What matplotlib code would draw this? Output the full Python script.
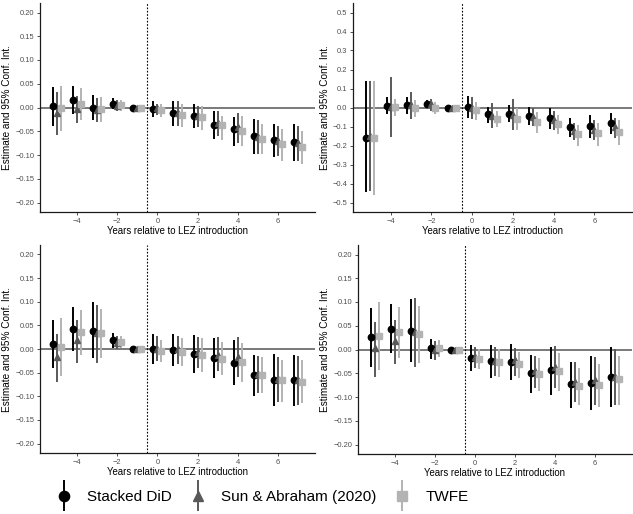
import matplotlib
matplotlib.use("Agg")
import matplotlib.pyplot as plt
from matplotlib.container import ErrorbarContainer
from matplotlib.legend_handler import HandlerErrorbar

plt.rcParams['font.family'] = ['Liberation Sans', 'DejaVu Sans']

years = [-5, -4, -3, -2, -1, 0, 1, 2, 3, 4, 5, 6, 7]

# panel A
a_stk = [0.003, 0.015, -0.001, 0.008, 0, -0.004, -0.012, -0.018, -0.037, -0.046, -0.061, -0.068, -0.073]
a_stk_lo = [-0.039, -0.014, -0.027, -0.004, 0, -0.020, -0.039, -0.044, -0.066, -0.081, -0.098, -0.104, -0.112]
a_stk_hi = [0.044, 0.046, 0.026, 0.020, 0, 0.014, 0.014, 0.008, -0.007, -0.019, -0.025, -0.035, -0.035]
a_sun = [-0.012, -0.003, -0.006, 0.004, 0, -0.001, -0.012, -0.018, -0.033, -0.040, -0.062, -0.070, -0.074]
a_sun_lo = [-0.057, -0.033, -0.031, -0.008, 0, -0.015, -0.039, -0.042, -0.061, -0.074, -0.098, -0.102, -0.112]
a_sun_hi = [0.033, 0.025, 0.019, 0.016, 0, 0.008, 0.013, 0.004, -0.007, -0.011, -0.027, -0.039, -0.039]
a_twfe = [-0.002, 0.007, -0.004, 0.005, 0, -0.005, -0.016, -0.021, -0.037, -0.049, -0.066, -0.077, -0.084]
a_twfe_lo = [-0.050, -0.027, -0.030, -0.007, 0, -0.019, -0.040, -0.047, -0.068, -0.081, -0.098, -0.112, -0.119]
a_twfe_hi = [0.046, 0.041, 0.022, 0.015, 0, 0.008, 0.007, 0.004, -0.018, -0.018, -0.035, -0.046, -0.049]

# panel B
b_stk = [-0.158, 0.009, 0.011, 0.018, 0, 0.004, -0.035, -0.032, -0.044, -0.056, -0.104, -0.096, -0.084]
b_stk_lo = [-0.446, -0.035, -0.033, -0.005, 0, -0.053, -0.079, -0.075, -0.093, -0.111, -0.153, -0.161, -0.140]
b_stk_hi = [0.137, 0.054, 0.054, 0.040, 0, 0.058, 0.005, 0.014, 0.005, -0.004, -0.053, -0.042, -0.030]
b_sun = [-0.149, 0.005, 0.012, 0.016, 0, 0.000, -0.044, -0.039, -0.051, -0.065, -0.123, -0.118, -0.105]
b_sun_lo = [-0.437, -0.156, -0.060, -0.016, 0, -0.061, -0.109, -0.121, -0.096, -0.118, -0.170, -0.170, -0.161]
b_sun_hi = [0.137, 0.160, 0.081, 0.047, 0, 0.054, 0.023, 0.044, -0.002, -0.016, -0.079, -0.065, -0.053]
b_twfe = [-0.161, 0.005, -0.004, -0.002, 0, -0.014, -0.060, -0.061, -0.075, -0.088, -0.140, -0.132, -0.128]
b_twfe_lo = [-0.463, -0.047, -0.049, -0.033, 0, -0.065, -0.104, -0.121, -0.135, -0.139, -0.205, -0.205, -0.196]
b_twfe_hi = [0.137, 0.044, 0.042, 0.030, 0, 0.030, -0.016, -0.004, -0.026, -0.042, -0.091, -0.079, -0.065]

# panel C
c_stk = [0.011, 0.042, 0.039, 0.018, 0, 0.001, -0.003, -0.010, -0.019, -0.030, -0.055, -0.065, -0.066]
c_stk_lo = [-0.040, -0.004, -0.019, 0.002, 0, -0.031, -0.037, -0.051, -0.061, -0.077, -0.100, -0.120, -0.120]
c_stk_hi = [0.062, 0.088, 0.099, 0.034, 0, 0.032, 0.032, 0.030, 0.023, 0.018, -0.012, -0.010, -0.012]
c_sun = [-0.017, 0.018, 0.034, 0.013, 0, 0.001, -0.001, -0.007, -0.012, -0.017, -0.053, -0.063, -0.065]
c_sun_lo = [-0.070, -0.030, -0.030, -0.001, 0, -0.026, -0.031, -0.040, -0.047, -0.059, -0.093, -0.112, -0.118]
c_sun_hi = [0.032, 0.062, 0.094, 0.027, 0, 0.027, 0.027, 0.025, 0.025, 0.025, -0.015, -0.017, -0.015]
c_twfe = [0.004, 0.035, 0.034, 0.015, 0, -0.004, -0.006, -0.013, -0.021, -0.028, -0.056, -0.066, -0.069]
c_twfe_lo = [-0.058, -0.012, -0.019, 0.002, 0, -0.028, -0.035, -0.049, -0.054, -0.070, -0.094, -0.112, -0.114]
c_twfe_hi = [0.065, 0.083, 0.085, 0.028, 0, 0.020, 0.023, 0.023, 0.014, 0.013, -0.017, -0.023, -0.024]

# panel D
d_stk = [0.026, 0.044, 0.040, 0.003, 0, -0.017, -0.025, -0.026, -0.050, -0.044, -0.073, -0.070, -0.057]
d_stk_lo = [-0.036, -0.008, -0.027, -0.020, 0, -0.045, -0.060, -0.065, -0.092, -0.096, -0.123, -0.128, -0.121]
d_stk_hi = [0.087, 0.095, 0.106, 0.023, 0, 0.010, 0.009, 0.011, -0.011, 0.006, -0.027, -0.013, 0.006]
d_sun = [0.004, 0.017, 0.037, -0.002, 0, -0.016, -0.025, -0.023, -0.046, -0.036, -0.068, -0.065, -0.057]
d_sun_lo = [-0.057, -0.030, -0.036, -0.023, 0, -0.038, -0.055, -0.055, -0.082, -0.080, -0.111, -0.117, -0.117]
d_sun_hi = [0.058, 0.062, 0.108, 0.018, 0, 0.005, 0.005, 0.004, -0.013, 0.008, -0.027, -0.016, 0.001]
d_twfe = [0.028, 0.037, 0.033, 0.004, 0, -0.020, -0.027, -0.030, -0.052, -0.046, -0.077, -0.075, -0.062]
d_twfe_lo = [-0.043, -0.018, -0.029, -0.016, 0, -0.041, -0.057, -0.060, -0.087, -0.087, -0.116, -0.121, -0.116]
d_twfe_hi = [0.099, 0.090, 0.092, 0.021, 0, 0.001, 0.001, -0.006, -0.018, -0.008, -0.039, -0.030, -0.013]

labels = ['Stacked DiD', 'Sun & Abraham (2020)', 'TWFE']
colors = ['#000000', '#595959', '#B3B3B3']
markers = ['o', '^', 's']
shifts = [-0.2, 0.0, 0.2]

panels = [
    ([(a_stk, a_stk_lo, a_stk_hi), (a_sun, a_sun_lo, a_sun_hi), (a_twfe, a_twfe_lo, a_twfe_hi)], 0.20, 0.05),
    ([(b_stk, b_stk_lo, b_stk_hi), (b_sun, b_sun_lo, b_sun_hi), (b_twfe, b_twfe_lo, b_twfe_hi)], 0.5, 0.1),
    ([(c_stk, c_stk_lo, c_stk_hi), (c_sun, c_sun_lo, c_sun_hi), (c_twfe, c_twfe_lo, c_twfe_hi)], 0.20, 0.05),
    ([(d_stk, d_stk_lo, d_stk_hi), (d_sun, d_sun_lo, d_sun_hi), (d_twfe, d_twfe_lo, d_twfe_hi)], 0.20, 0.05),
]

W, H = 633, 514
fig = plt.figure(figsize=(W / 100, H / 100), dpi=100)

# axes boxes in pixels: left, top, right, bottom
boxes = [(40, 3, 315, 212), (353, 3, 632, 212), (40, 245, 315, 453), (358, 245, 632, 454)]

handles = []
for (series, lim, step), (l, t, r, b) in zip(panels, boxes):
    ax = fig.add_axes([l / W, 1 - b / H, (r - l) / W, (b - t) / H])
    ax.axhline(0, color='#6e6e6e', lw=1.3, zorder=1)
    ax.axvline(-0.5, color='black', lw=0.8, ls=(0, (1.5, 1.5)), zorder=1)
    hs = []
    for (est, lo, hi), col, mk, dx in zip(series, colors, markers, shifts):
        xs = [y + dx for y in years]
        err = [[e - a for e, a in zip(est, lo)], [c - e for e, c in zip(est, hi)]]
        h = ax.errorbar(xs, est, yerr=err, fmt=mk, color=col, ecolor=col,
                        elinewidth=1.4, markersize=4.6 if mk != 's' else 4.2,
                        capsize=0, zorder=3)
        hs.append(h)
    handles = hs
    ax.set_xlim(-5.85, 7.85)
    ax.set_ylim(-lim * 1.1, lim * 1.1)
    ax.set_xticks([-4, -2, 0, 2, 4, 6])
    n = int(round(lim / step))
    yt = [step * k for k in range(-n, n + 1)]
    ax.set_yticks(yt)
    fmt = '{:.2f}' if step < 0.1 else '{:.1f}'
    ax.set_yticklabels([fmt.format(v).replace('-', '\u2212') if abs(v) > 1e-9 else fmt.format(0) for v in yt])
    for s in ['top', 'right']:
        ax.spines[s].set_visible(False)
    for s in ['left', 'bottom']:
        ax.spines[s].set_color('#1a1a1a')
        ax.spines[s].set_linewidth(0.9)
    ax.tick_params(axis='both', length=2.2, width=0.6, color='#333333',
                   labelsize=5.4, labelcolor='#4d4d4d', pad=2)
    ax.set_xlabel('Years relative to LEZ introduction', fontsize=6.9, labelpad=1)
    ax.set_ylabel('Estimate and 95% Conf. Int.', fontsize=7.2, labelpad=2)

leg = fig.legend(handles, labels, loc='center left', bbox_to_anchor=(43 / W, 1 - 497 / H),
                 ncol=3, frameon=False, fontsize=11, handlelength=1.0, markerscale=1.6,
                 handletextpad=1.0, columnspacing=1.2,
                 handler_map={ErrorbarContainer: HandlerErrorbar(yerr_size=1.0)})

fig.savefig('out.png', dpi=100)
